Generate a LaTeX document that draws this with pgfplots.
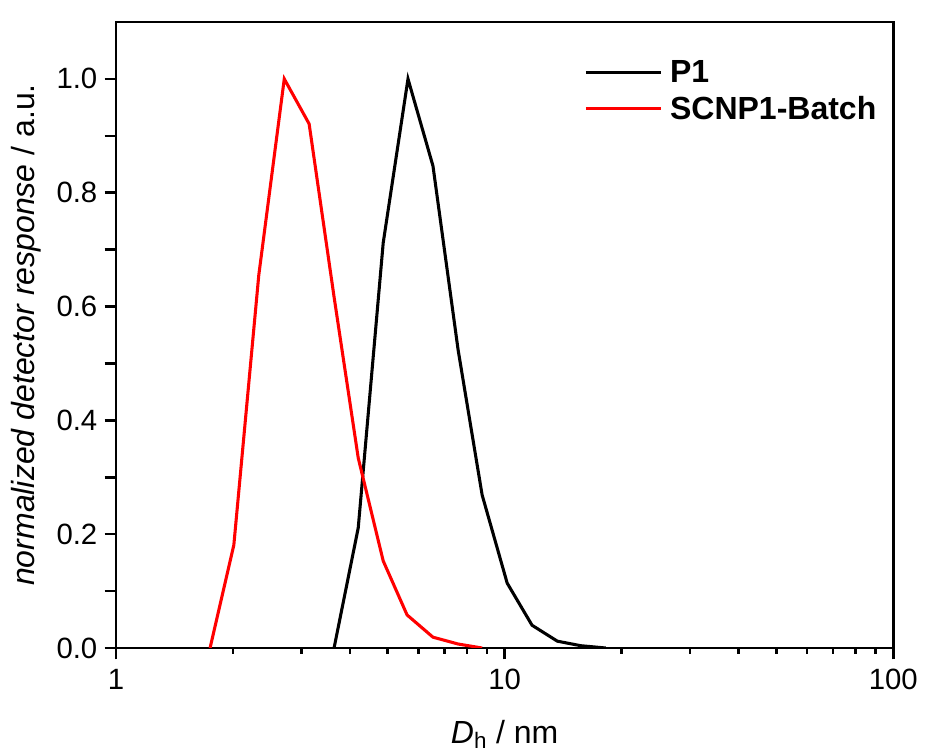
\documentclass[border=0pt]{standalone}
\usepackage{pgfplots}
\pgfplotsset{compat=1.18}
\usepackage{fontspec}
\setmainfont{Liberation Sans}
\begin{document}
\begin{tikzpicture}
\useasboundingbox (-87pt,-81pt) rectangle (606.75pt,486pt);
\begin{axis}[
  at={(0,0)}, anchor=south west,
  scale only axis, width=583pt, height=469.5pt,
  xmode=log, xmin=1, xmax=100, ymin=0, ymax=1.1,
  xtick={1,10,100}, xticklabels={1,10,100},
  minor xtick={2,3,4,5,6,7,8,9,20,30,40,50,60,70,80,90},
  ytick={0,0.1,0.2,0.3,0.4,0.5,0.6,0.7,0.8,0.9,1.0},
  yticklabels={0.0,,0.2,,0.4,,0.6,,0.8,,1.0},
  tick align=outside, tick pos=left,
  major tick length=8.5pt, minor tick length=4.5pt,
  every tick/.style={black, line width=1.9pt},
  axis line style={line width=1.9pt},
  /pgf/number format/assume math mode=true,
  tick label style={font=\fontsize{22}{26}\selectfont},
  xticklabel style={yshift=-4pt},
  yticklabel style={xshift=-2pt},
  label style={font=\fontsize{24}{28}\selectfont},
  xlabel={\textit{D}\textsubscript{h} / nm},
  xlabel style={at={(axis description cs:0.5,-0.152)}, anchor=base},
  ylabel={\textit{normalized detector response} / a.u.},
  ylabel style={at={(axis description cs:-0.1046,0.5)}, anchor=base},
  legend style={draw=none, fill=none, at={(axis description cs:0.597,0.95)}, anchor=north west,
    font=\bfseries\fontsize{24}{28}\selectfont, row sep=3pt,
    nodes={inner sep=3pt}},
  legend cell align=left,
  legend image code/.code={\draw[#1] (0pt,0pt) -- (56pt,0pt);},
]
\addplot[black, line width=2.3pt] coordinates {
(3.64,0) (4.2,0.211) (4.87,0.712) (5.64,1.0) (6.54,0.847) (7.59,0.524) (8.75,0.269) (10.15,0.114) (11.76,0.040) (13.66,0.012) (15.7,0.004) (18.2,0.0)
};
\addlegendentry{\hspace{3pt}P1}
\addplot[red, line width=2.3pt] coordinates {
(1.746,0) (2.01,0.181) (2.33,0.655) (2.71,1.0) (3.14,0.921) (3.64,0.617) (4.2,0.334) (4.87,0.153) (5.61,0.058) (6.54,0.019) (7.59,0.007) (8.75,0)
};
\addlegendentry{\hspace{3pt}SCNP1-Batch}
\end{axis}
\end{tikzpicture}
\end{document}
